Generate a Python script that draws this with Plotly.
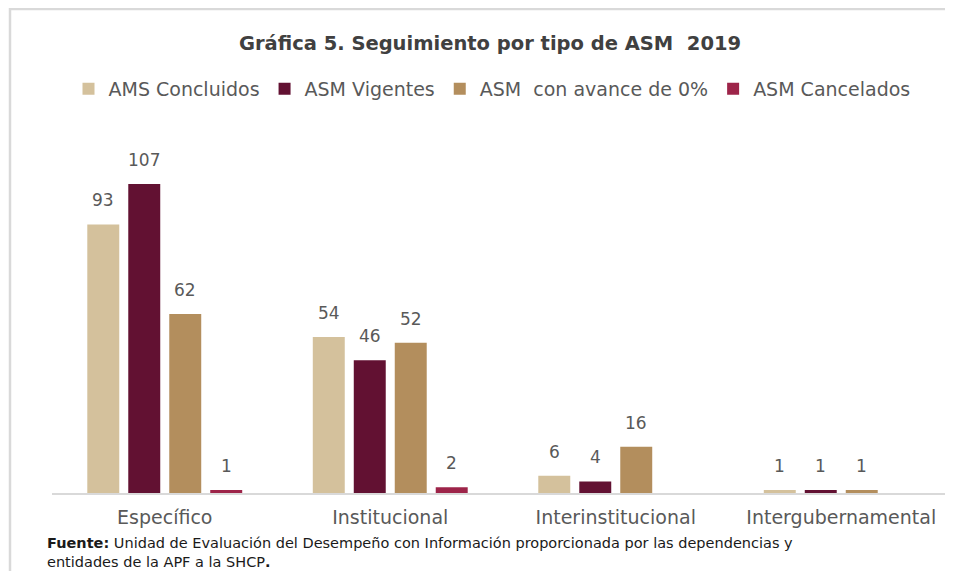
import plotly.graph_objects as go

categories = ["Específico", "Institucional", "Interinstitucional", "Intergubernamental"]
series_names = ["AMS Concluidos", "ASM Vigentes", "ASM  con avance de 0%", "ASM Cancelados"]
concluidos = [93, 54, 6, 1]
vigentes = [107, 46, 4, 1]
avance0 = [62, 52, 16, 1]
cancelados = [1, 2, None, None]
colors = ["#D4C19C", "#621132", "#B38E5D", "#9D2449"]

all_series = [concluidos, vigentes, avance0, cancelados]

# page body has an 8px margin: figure origin sits at (8, 8) of the window
OX, OY = 8, 8
W, H = 937, 563
ML, MR, MT, MB = 52 - OX, 0, 130 - OY, H - (493 - OY)
PW = W - ML - MR
PH = H - MT - MB
CATW = 225.5
BARGAP = 0.273
GROUPGAP = 0.22
YMAX = 125.7
FONT = "DejaVu Sans, sans-serif"

def px_x(px):
    return (px - OX - ML) / PW

def px_y(py):
    return (H - MB - (py - OY)) / PH

fig = go.Figure()
for name, vals, col in zip(series_names, all_series, colors):
    fig.add_trace(go.Bar(
        x=categories, y=vals, name=name,
        marker=dict(color=col, line=dict(width=0)),
    ))

annotations = []
n = len(all_series)
slot = (1 - BARGAP) / n
for i, vals in enumerate(all_series):
    off = (i - (n - 1) / 2) * slot
    for j, v in enumerate(vals):
        if v is None:
            continue
        annotations.append(dict(
            x=j + off, y=v, xref="x", yref="y", text=str(v),
            showarrow=False, yanchor="middle", yshift=24,
            font=dict(family=FONT, size=17, color="#595959"),
        ))

annotations.append(dict(
    x=px_x(46), y=px_y(571), xref="paper", yref="paper", xanchor="left", yanchor="bottom",
    showarrow=False, align="left", borderpad=0,
    text=("<b>Fuente:</b> Unidad de Evaluación del Desempeño con Información proporcionada por las dependencias y"
          "<br>entidades de la APF a la SHCP<b>.</b>"),
    font=dict(family=FONT, size=14.5, color="#1a1a1a"),
))

shapes = [
    dict(type="line", xref="paper", yref="paper", x0=px_x(9), x1=px_x(960),
         y0=px_y(9), y1=px_y(9), line=dict(color="#d9d9d9", width=2.5)),
    dict(type="line", xref="paper", yref="paper", x0=px_x(10), x1=px_x(10),
         y0=px_y(8), y1=px_y(590), line=dict(color="#d9d9d9", width=2.5)),
]

fig.update_layout(
    width=W, height=H,
    margin=dict(l=ML, r=MR, t=MT, b=MB),
    paper_bgcolor="white", plot_bgcolor="white",
    barmode="group", bargap=BARGAP, bargroupgap=GROUPGAP,
    title=dict(
        text="<b>Gráfica 5. Seguimiento por tipo de ASM  2019</b>",
        x=(490 - OX) / W, xanchor="center", y=1 - (43 - OY) / H, yanchor="middle",
        font=dict(family=FONT, size=19.5, color="#404040"),
    ),
    legend=dict(
        orientation="h", x=px_x(492), xanchor="center", y=px_y(89), yanchor="middle",
        font=dict(family=FONT, size=19, color="#595959"),
        traceorder="normal", itemwidth=30,
    ),
    xaxis=dict(
        range=[-0.5, -0.5 + PW / CATW],
        showgrid=False, showline=True, linecolor="#d9d9d9", linewidth=2,
        ticks="", ticklabelstandoff=6,
        tickfont=dict(family=FONT, size=19, color="#595959"),
        zeroline=False,
    ),
    yaxis=dict(
        range=[0, YMAX], showgrid=False, showticklabels=False, zeroline=False,
        showline=False, ticks="",
    ),
    annotations=annotations,
    shapes=shapes,
    showlegend=True,
)

fig.write_html("out.html")
